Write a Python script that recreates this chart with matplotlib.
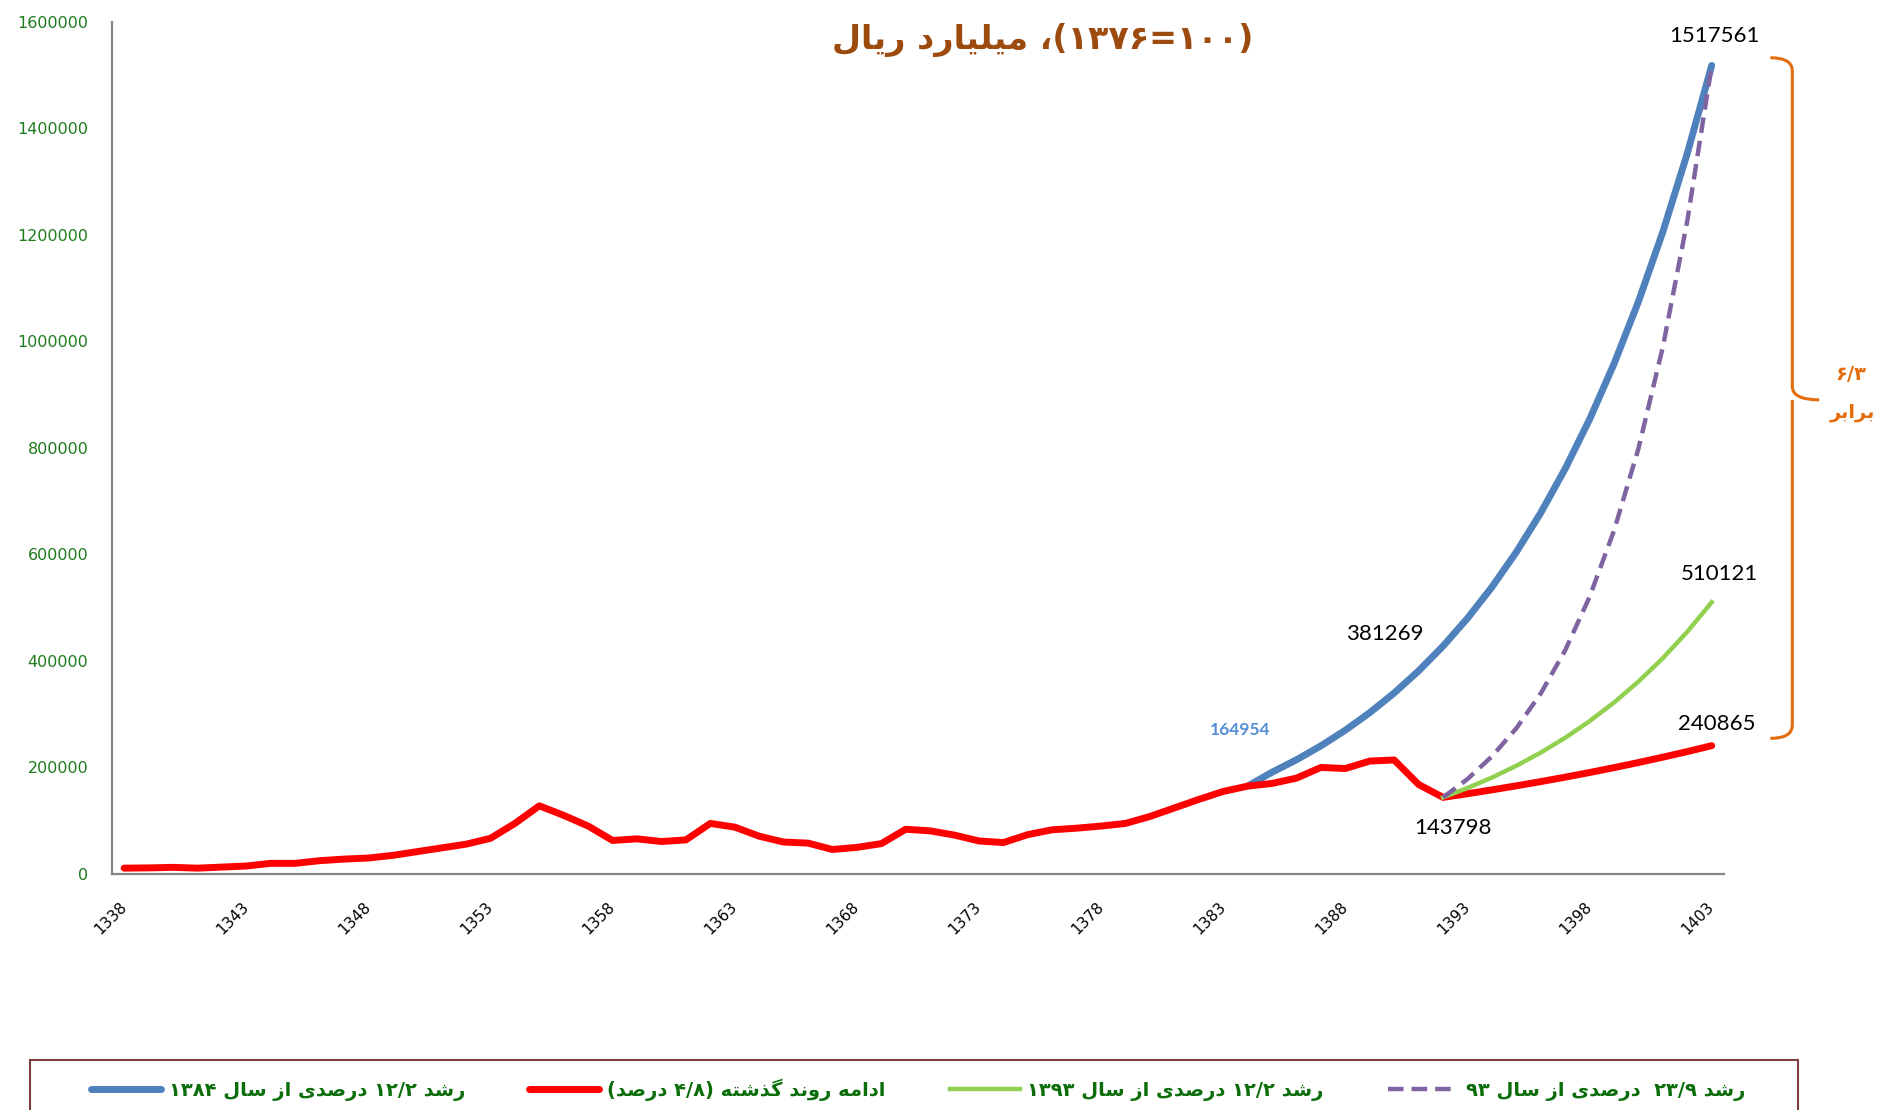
import re
import matplotlib
matplotlib.use("Agg")
import matplotlib.pyplot as plt
from matplotlib.path import Path
from matplotlib.patches import PathPatch, Rectangle

# data
years = list(range(1338, 1404))
red_values = [11000, 11500, 12500, 11000, 13000, 15000, 20000, 20000, 25000, 28000,
              30000, 35000, 42000, 49000, 56000, 67000, 95000, 128000, 110000, 90000,
              63000, 66000, 61000, 64000, 95000, 88000, 71000, 60000, 58000, 46000,
              50000, 57000, 84000, 81000, 73000, 62000, 59000, 74000, 83000, 86000,
              90000, 95000, 108000, 124000, 140000, 155000, 164954, 170000, 180000, 200000,
              198000, 212000, 214000, 168000, 143798,
              150700, 157934, 165515, 173459, 181785, 190511, 199656, 209239, 219283,
              229808, 240865]
blue_years = list(range(1384, 1404))
blue_values = [164954, 191107, 214422, 240581, 269932, 302864, 339813, 381269, 427784, 479973,
               538530, 604230, 677943, 760651, 853452, 957573, 1074397, 1205478, 1352550, 1517561]
proj_years = list(range(1392, 1404))
green_values = [143798, 161341, 181025, 203110, 227889, 255692, 286886, 321886, 361156,
                405217, 454654, 510121]
purple_values = [143798, 178166, 220747, 273506, 338874, 419865, 520212, 644543, 798589,
                 989451, 1225930, 1517561]
tick_years = list(range(1338, 1404, 5))

title_text = "(۱۰۰=۱۳۷۶)، میلیارد ریال"
legend_labels = ["رشد ۱۲/۲ درصدی از سال ۱۳۸۴",
                 "ادامه روند گذشته (۴/۸ درصد)",
                 "رشد ۱۲/۲ درصدی از سال ۱۳۹۳",
                 "رشد ۲۳/۹  درصدی از سال ۹۳"]
brace_text = ["۶/۳", "برابر"]

# simple arabic shaping: (isolated, final, initial, medial)
FORMS = {
    "ا": ("\uFE8D", "\uFE8E"), "د": ("\uFEA9", "\uFEAA"), "ذ": ("\uFEAB", "\uFEAC"),
    "ر": ("\uFEAD", "\uFEAE"), "ز": ("\uFEAF", "\uFEB0"), "و": ("\uFEED", "\uFEEE"),
    "ب": ("\uFE8F", "\uFE90", "\uFE91", "\uFE92"), "ت": ("\uFE95", "\uFE96", "\uFE97", "\uFE98"),
    "س": ("\uFEB1", "\uFEB2", "\uFEB3", "\uFEB4"), "ش": ("\uFEB5", "\uFEB6", "\uFEB7", "\uFEB8"),
    "ص": ("\uFEB9", "\uFEBA", "\uFEBB", "\uFEBC"), "ل": ("\uFEDD", "\uFEDE", "\uFEDF", "\uFEE0"),
    "م": ("\uFEE1", "\uFEE2", "\uFEE3", "\uFEE4"), "ن": ("\uFEE5", "\uFEE6", "\uFEE7", "\uFEE8"),
    "ه": ("\uFEE9", "\uFEEA", "\uFEEB", "\uFEEC"), "ی": ("\uFBFC", "\uFBFD", "\uFBFE", "\uFBFF"),
    "گ": ("\uFB92", "\uFB93", "\uFB94", "\uFB95"),
}


def rtl(text):
    out = []
    for i, c in enumerate(text):
        if c not in FORMS:
            out.append(c)
            continue
        prev = text[i - 1] if i > 0 else ""
        nxt = text[i + 1] if i + 1 < len(text) else ""
        jp = prev in FORMS and len(FORMS[prev]) == 4
        jn = len(FORMS[c]) == 4 and nxt in FORMS
        f = FORMS[c]
        if jp and jn:
            out.append(f[3])
        elif jp:
            out.append(f[1])
        elif jn:
            out.append(f[2])
        else:
            out.append(f[0])
    s = "".join(out)[::-1]
    s = s.translate({ord("("): ")", ord(")"): "("})
    s = re.sub(r"[۰-۹][۰-۹/]*", lambda m: m.group(0)[::-1], s)
    return s


ar_font = ["DejaVu Sans"]
num_font = ["Lato", "DejaVu Sans"]

fig = plt.figure(figsize=(18.81, 11.10), dpi=100)
ax = fig.add_axes([0.0595, 0.2126, 0.857, 0.768])

ax.plot(blue_years, blue_values, color="#4F81BD", lw=5, solid_capstyle="round", zorder=2,
        label=rtl(legend_labels[0]))
ax.plot(years, red_values, color="#FF0000", lw=5, solid_capstyle="round", zorder=3,
        label=rtl(legend_labels[1]))
ax.plot(proj_years, green_values, color="#92D050", lw=3.2, zorder=4,
        label=rtl(legend_labels[2]))
ax.plot(proj_years, purple_values, color="#8064A2", lw=3.2, ls=(0, (3.5, 1.8)), zorder=5,
        label=rtl(legend_labels[3]))

ax.set_xlim(1337.5, 1403.5)
ax.set_ylim(0, 1600000)
ax.set_xticks(tick_years)
ax.set_xticklabels([str(y) for y in tick_years], rotation=45, fontsize=11,
                   family=["DejaVu Sans"], ha="right", va="center",
                   rotation_mode="anchor")
ax.set_yticks(range(0, 1600001, 200000))
ax.set_yticklabels([str(v) for v in range(0, 1600001, 200000)], color="#1E7B1E",
                   fontsize=11.5, family=["DejaVu Sans"])
ax.tick_params(length=0)
ax.tick_params(axis="x", pad=22)
ax.tick_params(axis="y", pad=17)
for side in ["top", "right"]:
    ax.spines[side].set_visible(False)
for side in ["left", "bottom"]:
    ax.spines[side].set_color("#868686")
    ax.spines[side].set_linewidth(1.6)

# title
ax.text(1375.6, 1566000, rtl(title_text), ha="center", va="center", fontsize=24,
        fontweight="bold", color="#9C4A0E", family=ar_font)

# value labels
ax.text(1403.1, 1573000, "1517561", ha="center", va="center", fontsize=16, family=num_font)
ax.text(1403.3, 563000, "510121", ha="center", va="center", fontsize=16, family=num_font)
ax.text(1403.2, 281700, "240865", ha="center", va="center", fontsize=16, family=num_font)
ax.text(1389.6, 450700, "381269", ha="center", va="center", fontsize=16, family=num_font)
ax.text(1392.4, 85600, "143798", ha="center", va="center", fontsize=16, family=num_font)
ax.text(1383.7, 270400, "164954", ha="center", va="center", fontsize=12.5,
        fontweight="bold", color="#558ED5", family=num_font)

# brace
top, bot, mid = 1532000, 254600, 890000
xl, xb, xt = 1405.4, 1406.3, 1407.4
verts = [(xl, top), (xb, top), (xb, top - 25000),
         (xb, mid + 25000),
         (xb, mid), (xt, mid),
         (xb, mid), (xb, mid - 25000),
         (xb, bot + 25000),
         (xb, bot), (xl, bot)]
codes = [Path.MOVETO, Path.CURVE3, Path.CURVE3,
         Path.LINETO,
         Path.CURVE3, Path.CURVE3,
         Path.MOVETO, Path.LINETO,
         Path.LINETO,
         Path.CURVE3, Path.CURVE3]
ax.add_patch(PathPatch(Path(verts, codes), fill=False, edgecolor="#E46C0A", lw=2.2,
                       clip_on=False))
ax.text(1408.7, 937000, rtl(brace_text[0]), ha="center", va="center", fontsize=14,
        fontweight="bold", color="#E46C0A", family=ar_font, clip_on=False)
ax.text(1408.75, 866000, rtl(brace_text[1]), ha="center", va="center", fontsize=14,
        fontweight="bold", color="#E46C0A", family=ar_font, clip_on=False)

# legend with a box that runs past the bottom edge
fig.patches.append(Rectangle((0.016, -0.05), 0.940, 0.095, transform=fig.transFigure,
                             fill=False, edgecolor="#7F3F3F", lw=1.5))
leg = fig.legend(loc="center", bbox_to_anchor=(0.488, 0.0185), ncol=4, frameon=False,
                 handlelength=3.6, handletextpad=0.4, columnspacing=3.3,
                 prop={"family": ar_font, "weight": "bold", "size": 14})
for t in leg.get_texts():
    t.set_color("#0B6E0B")

fig.savefig("out.png", dpi=100)
